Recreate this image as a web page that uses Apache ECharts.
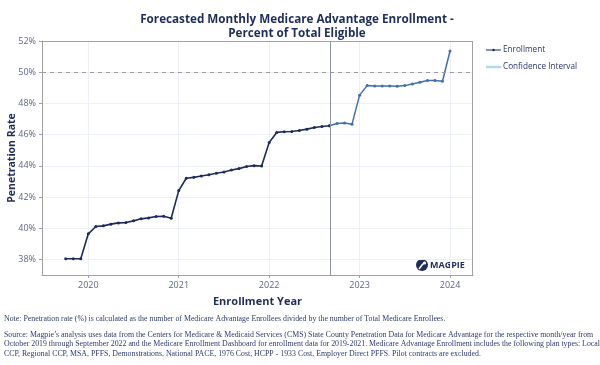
<!DOCTYPE html>
<html>
<head>
<meta charset="utf-8">
<script src="https://cdn.jsdelivr.net/npm/echarts@6/dist/echarts.min.js"></script>
<style>
html,body{margin:0;padding:0;background:#fff;}
#chart{width:600px;height:365px;}
</style>
</head>
<body>
<div id="chart"></div>
<script>
// ---- data ----
const histMonths = [
  '2019-10','2019-11','2019-12',
  '2020-01','2020-02','2020-03','2020-04','2020-05','2020-06','2020-07','2020-08','2020-09','2020-10','2020-11','2020-12',
  '2021-01','2021-02','2021-03','2021-04','2021-05','2021-06','2021-07','2021-08','2021-09','2021-10','2021-11','2021-12',
  '2022-01','2022-02','2022-03','2022-04','2022-05','2022-06','2022-07','2022-08','2022-09'
];
const histValues = [
  38.04,38.04,38.04,
  39.64,40.11,40.15,40.26,40.34,40.36,40.47,40.60,40.66,40.75,40.77,40.64,
  42.41,43.20,43.26,43.35,43.43,43.52,43.60,43.73,43.82,43.96,44.01,43.99,
  45.50,46.14,46.18,46.20,46.26,46.35,46.46,46.52,46.57
];
const fcMonths = [
  '2022-09','2022-10','2022-11','2022-12',
  '2023-01','2023-02','2023-03','2023-04','2023-05','2023-06','2023-07','2023-08','2023-09','2023-10','2023-11','2023-12',
  '2024-01'
];
const fcValues = [
  46.57,46.71,46.74,46.67,
  48.53,49.14,49.12,49.12,49.12,49.10,49.14,49.25,49.36,49.47,49.47,49.42,
  51.36
];
const ciMonths = [
  '2022-09','2022-10','2022-11','2022-12',
  '2023-01','2023-02','2023-03','2023-04','2023-05','2023-06','2023-07','2023-08','2023-09','2023-10','2023-11','2023-12'
];
const ciLower = [46.57,46.62,46.64,46.56,48.42,49.02,49.00,48.99,48.98,48.95,48.98,49.08,49.18,49.28,49.28,49.23];
const ciUpper = [46.57,46.80,46.84,46.78,48.64,49.26,49.24,49.25,49.26,49.25,49.30,49.42,49.54,49.66,49.66,49.61];
const xTickYears = [2020,2021,2022,2023,2024];
const yTicks = [38,40,42,44,46,48,50,52];
const forecastStart = '2022-09';
const targetLine = 50;

// ---- helpers ----
const toX = m => { const [y, mo] = m.split('-').map(Number); return y + (mo - 1) / 12; };
const pairs = (ms, vs) => ms.map((m, i) => [toX(m), vs[i]]);

const NAVY = '#1c2b5c';
const FC = '#3f70ab';
const CI = '#acdaf6';
const AXISTXT = '#5b6786';

const chart = echarts.init(document.getElementById('chart'), null, {renderer: 'canvas'});
chart.setOption({
  animation: false,
  backgroundColor: '#fff',
  textStyle: {fontFamily: 'Open Sans'},
  title: {
    text: 'Forecasted Monthly Medicare Advantage Enrollment -\nPercent of Total Eligible',
    left: 292, top: 8, textAlign: 'center',
    textStyle: {fontFamily: 'Open Sans', fontSize: 11.7, fontWeight: 'bold', color: '#1f2d5a', lineHeight: 13.5}
  },
  legend: {
    orient: 'vertical', left: 481, top: 41, itemGap: 9, itemWidth: 15, itemHeight: 6,
    textStyle: {fontFamily: 'Open Sans', fontSize: 8.2, color: '#2a3766', padding: [0,0,0,-3]},
    data: [
      {name: 'Enrollment', icon: 'path://M0,2.5 H15 V3.5 H0 Z M7.5,1.7 A1.3,1.3 0 1,1 7.5,4.3 A1.3,1.3 0 1,1 7.5,1.7 Z', itemStyle: {color: NAVY}},
      {name: 'Confidence Interval', icon: 'path://M0,1.8 H15 V4.2 H0 Z', itemStyle: {color: CI}}
    ]
  },
  grid: {left: 42, right: 127, top: 41, bottom: 90, outerBoundsMode: 'none', containLabel: false},
  xAxis: {
    type: 'value', min: 2019.488, max: 2024.254,
    name: 'Enrollment Year', nameLocation: 'middle', nameGap: 21, nameMoveOverlap: false,
    nameTextStyle: {fontFamily: 'Open Sans', fontSize: 11, fontWeight: 'bold', color: '#1f2d5a'},
    axisLine: {show: true, lineStyle: {color: '#a0a0a0', width: 1}},
    axisTick: {show: true, length: 3, lineStyle: {color: '#a0a0a0'}, customValues: xTickYears},
    axisLabel: {customValues: xTickYears, color: AXISTXT, fontSize: 9, margin: 6, formatter: v => String(Math.round(v))},
    splitLine: {show: true, lineStyle: {color: '#eef0f7', width: 1}}
  },
  yAxis: {
    type: 'value', min: 37, max: 52,
    name: 'Penetration Rate', nameLocation: 'middle', nameGap: 24, nameRotate: 90, nameMoveOverlap: false,
    nameTextStyle: {fontFamily: 'Open Sans', fontSize: 10.5, fontWeight: 'bold', color: '#1f2d5a'},
    axisLine: {show: true, lineStyle: {color: '#a0a0a0', width: 1}},
    axisTick: {show: true, length: 3, lineStyle: {color: '#a0a0a0'}, customValues: yTicks},
    axisLabel: {customValues: yTicks, color: AXISTXT, fontSize: 9, margin: 6, formatter: v => Math.round(v) + '%'},
    splitLine: {show: true, lineStyle: {color: '#eef0f7', width: 1}}
  },
  series: [
    {
      name: 'ciLower', type: 'line', stack: 'ci', symbol: 'none', silent: true,
      data: pairs(ciMonths, ciLower), lineStyle: {width: 0, opacity: 0}, z: 1
    },
    {
      name: 'Confidence Interval', type: 'line', stack: 'ci', symbol: 'none', silent: true,
      data: pairs(ciMonths, ciUpper.map((u, i) => +(u - ciLower[i]).toFixed(3))),
      lineStyle: {width: 0, opacity: 0}, itemStyle: {color: CI},
      areaStyle: {color: CI, opacity: 1}, z: 1
    },
    {
      name: 'Enrollment', type: 'line', data: pairs(histMonths, histValues),
      symbol: 'circle', symbolSize: 3, showSymbol: true,
      lineStyle: {color: NAVY, width: 1.6}, itemStyle: {color: NAVY}, z: 3,
      markLine: {
        silent: true, symbol: 'none', label: {show: false},
        data: [
          {yAxis: targetLine, lineStyle: {color: '#9a9a9a', type: [4, 4], width: 1}},
          {xAxis: toX(forecastStart), lineStyle: {color: '#8f94a3', type: 'solid', width: 1}}
        ]
      }
    },
    {
      name: 'Enrollment', type: 'line', data: pairs(fcMonths, fcValues),
      symbol: 'circle', symbolSize: 3, showSymbol: true,
      lineStyle: {color: FC, width: 1.5}, itemStyle: {color: FC}, z: 2
    },
    {
      // plot frame (top / right edges)
      type: 'line', data: [], silent: true,
      markLine: {
        silent: true, symbol: 'none', label: {show: false},
        lineStyle: {color: '#a0a0a0', type: 'solid', width: 1},
        data: [{yAxis: 52}, {xAxis: 2024.254}]
      }
    }
  ],
  graphic: [
    {type: 'group', left: 416, top: 259, children: [
      {type: 'circle', shape: {cx: 6, cy: 6, r: 6}, style: {fill: '#1f2d5a'}},
      {type: 'polyline', shape: {points: [[3,10],[6,6],[9,3]]}, style: {stroke: '#fff', lineWidth: 1.6, fill: null}},
      {type: 'circle', shape: {cx: 8.5, cy: 4, r: 1.6}, style: {fill: '#fff'}},
      {type: 'text', x: 14, y: 1.5, style: {text: 'MAGPIE', font: 'bold 9px "Open Sans"', fill: '#1f2d5a'}}
    ]},
    {type: 'text', left: 4, top: 315, style: {
      text: 'Note: Penetration rate (%) is calculated as the number of Medicare Advantage Enrollees divided by the number of Total Medicare Enrollees.',
      font: '7.85px "Liberation Serif"', fill: '#2b3a6b'}},
    {type: 'text', left: 4, top: 330, style: {
      text: 'Source: Magpie\u2019s analysis uses data from the Centers for Medicare & Medicaid Services (CMS) State County Penetration Data for Medicare Advantage for the respective month/year from\nOctober 2019 through September 2022 and the Medicare Enrollment Dashboard for enrollment data for 2019-2021. Medicare Advantage Enrollment includes the following plan types: Local\nCCP, Regional CCP, MSA, PFFS, Demonstrations, National PACE, 1976 Cost, HCPP - 1933 Cost, Employer Direct PFFS. Pilot contracts are excluded.',
      font: '7.85px "Liberation Serif"', fill: '#2b3a6b', lineHeight: 9.5}}
  ]
});
</script>
</body>
</html>
